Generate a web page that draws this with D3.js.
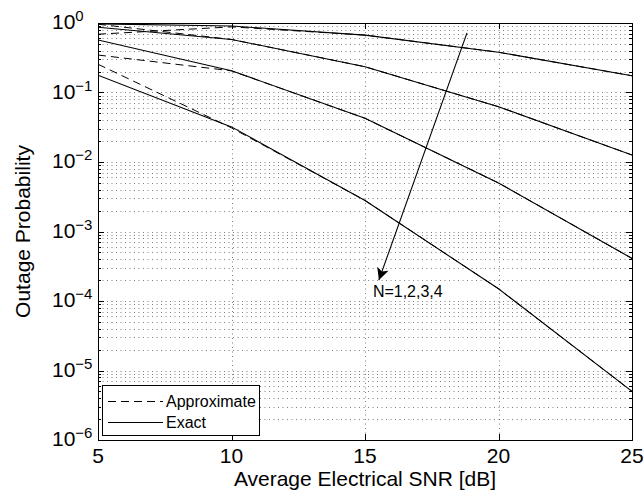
<!DOCTYPE html>
<html>
<head>
<meta charset="utf-8">
<script src="https://cdn.jsdelivr.net/npm/d3@7"></script>
<style>
  body { margin: 0; background: #fff; }
  text { font-family: "Liberation Sans", Arial, Helvetica, sans-serif; fill: #000; }
</style>
</head>
<body>
<svg id="chart"></svg>
<script>
const margin = {t: 23, r: 12, b: 52, l: 98};
const size = {w: 644, h: 492};

// SNR points [dB]
const snr = [5, 10, 15, 20, 25];

// exact outage probability, N = 1..4
const exactN1 = [0.97, 0.905, 0.67, 0.38, 0.174];
const exactN2 = [0.87, 0.58, 0.235, 0.0625, 0.0126];
const exactN3 = [0.57, 0.206, 0.0425, 0.005, 4.1e-4];
const exactN4 = [0.177, 0.032, 0.0028, 1.5e-4, 5e-6];

// approximate (high SNR) outage probability, N = 1..4
const approxN1 = [0.69, 0.88, 0.67, 0.38, 0.174];
const approxN2 = [0.96, 0.58, 0.235, 0.0625, 0.0126];
const approxN3 = [0.346, 0.205, 0.0425, 0.005, 4.1e-4];
const approxN4 = [0.255, 0.031, 0.0028, 1.5e-4, 5e-6];

const xTicks = [5, 10, 15, 20, 25];
const yExponents = [0, -1, -2, -3, -4, -5, -6];

const legendLabels = ['Approximate', 'Exact'];
const arrowLabel = 'N=1,2,3,4';
// arrow start / tip in data units
const arrowFrom = {x: 18.82, y: 0.72};
const arrowTo = {x: 15.52, y: 2.0e-4};

const svg = d3.select('svg#chart')
    .attr('width', size.w)
    .attr('height', size.h);

const w = size.w - margin.l - margin.r;
const h = size.h - margin.t - margin.b;

const g = svg.append('g')
    .attr('transform', `translate(${margin.l}, ${margin.t})`);

const x = d3.scaleLinear().domain([5, 25]).range([0, w]);
const y = d3.scaleLog().domain([1e-6, 1]).range([h, 0]);

// minor + major y values for grid and ticks
const yAll = [];
for (let e = -6; e < 0; e++) {
    for (let m = 1; m < 10; m++) yAll.push(m * Math.pow(10, e));
}
yAll.push(1);

// grid
const grid = g.append('g').attr('class', 'grid')
    .attr('stroke', '#000')
    .attr('stroke-width', 1)
    .attr('stroke-dasharray', '1,3.5')
    .attr('stroke-opacity', 0.5);

grid.selectAll('line.h')
    .data(yAll.filter(v => v > 1e-6 && v < 1))
    .join('line')
    .attr('class', 'h')
    .attr('x1', 0).attr('x2', w)
    .attr('y1', d => Math.round(y(d)) + 0.5)
    .attr('y2', d => Math.round(y(d)) + 0.5);

grid.selectAll('line.v')
    .data(xTicks.slice(1, -1))
    .join('line')
    .attr('class', 'v')
    .attr('y1', 0).attr('y2', h)
    .attr('x1', d => Math.round(x(d)) + 0.5)
    .attr('x2', d => Math.round(x(d)) + 0.5);

// curves
const line = d3.line()
    .x((d, i) => x(snr[i]))
    .y(d => y(d));

const exact = [exactN1, exactN2, exactN3, exactN4];
const approx = [approxN1, approxN2, approxN3, approxN4];

svg.append('clipPath').attr('id', 'clip')
    .append('rect').attr('width', w).attr('height', h);

const curves = g.append('g').attr('clip-path', 'url(#clip)');

curves.selectAll('path.approx')
    .data(approx)
    .join('path')
    .attr('class', 'approx')
    .attr('d', line)
    .attr('fill', 'none')
    .attr('stroke', '#000')
    .attr('stroke-width', 1)
    .attr('stroke-dasharray', '8,5');

curves.selectAll('path.exact')
    .data(exact)
    .join('path')
    .attr('class', 'exact')
    .attr('d', line)
    .attr('fill', 'none')
    .attr('stroke', '#000')
    .attr('stroke-width', 1.1);

// axes box
g.append('rect')
    .attr('x', 0.5).attr('y', 0.5)
    .attr('width', w).attr('height', h)
    .attr('fill', 'none')
    .attr('stroke', '#000')
    .attr('stroke-width', 1);

// ticks (inside, on all four sides)
const ticks = g.append('g').attr('stroke', '#000').attr('stroke-width', 1);
xTicks.forEach(v => {
    const px = Math.round(x(v)) + 0.5;
    ticks.append('line').attr('x1', px).attr('x2', px).attr('y1', h).attr('y2', h - 6);
    ticks.append('line').attr('x1', px).attr('x2', px).attr('y1', 0).attr('y2', 6);
});
yAll.forEach(v => {
    const py = Math.round(y(v)) + 0.5;
    const major = Math.abs(Math.log10(v) - Math.round(Math.log10(v))) < 1e-9;
    const len = major ? 6 : 3;
    ticks.append('line').attr('x1', 0).attr('x2', len).attr('y1', py).attr('y2', py);
    ticks.append('line').attr('x1', w - len).attr('x2', w).attr('y1', py).attr('y2', py);
});

// x tick labels
g.selectAll('text.xtick')
    .data(xTicks)
    .join('text')
    .attr('class', 'xtick')
    .attr('x', d => x(d))
    .attr('y', h + 23)
    .attr('text-anchor', 'middle')
    .style('font-size', '21px')
    .text(d => d);

// y tick labels 10^k
const yl = g.selectAll('text.ytick')
    .data(yExponents)
    .join('text')
    .attr('class', 'ytick')
    .attr('x', -46)
    .attr('y', d => y(Math.pow(10, d)) + 6)
    .style('font-size', '21px');
yl.append('tspan').text('10');
yl.append('tspan')
    .attr('dy', -8)
    .style('font-size', '15px')
    .text(d => d === 0 ? '0' : '\u2212' + Math.abs(d));

// axis titles
svg.append('text')
    .attr('x', margin.l + w / 2)
    .attr('y', size.h - 6)
    .attr('text-anchor', 'middle')
    .style('font-size', '21px')
    .text('Average Electrical SNR [dB]');

svg.append('text')
    .attr('transform', `translate(30, ${margin.t + h / 2}) rotate(-90)`)
    .attr('text-anchor', 'middle')
    .style('font-size', '21px')
    .text('Outage Probability');

// arrow annotation
svg.append('defs').append('marker')
    .attr('id', 'arrowhead')
    .attr('viewBox', '0 0 10 10')
    .attr('refX', 10).attr('refY', 5)
    .attr('markerWidth', 15).attr('markerHeight', 12)
    .attr('markerUnits', 'userSpaceOnUse')
    .attr('orient', 'auto')
    .append('path')
    .attr('d', 'M0,0 L10,5 L0,10 L2.5,5 Z')
    .attr('fill', '#000');

g.append('line')
    .attr('x1', x(arrowFrom.x)).attr('y1', y(arrowFrom.y))
    .attr('x2', x(arrowTo.x)).attr('y2', y(arrowTo.y))
    .attr('stroke', '#000')
    .attr('stroke-width', 1.1)
    .attr('marker-end', 'url(#arrowhead)');

g.append('text')
    .attr('x', x(arrowTo.x) - 6)
    .attr('y', y(arrowTo.y) + 17)
    .style('font-size', '16px')
    .text(arrowLabel);

// legend
const legend = g.append('g')
    .attr('transform', `translate(4, ${h - 55})`);
legend.append('rect')
    .attr('x', 0.5).attr('y', 0.5)
    .attr('width', 157).attr('height', 50)
    .attr('fill', '#fff')
    .attr('stroke', '#000');
legend.selectAll('line')
    .data(legendLabels)
    .join('line')
    .attr('x1', 6).attr('x2', 61)
    .attr('y1', (d, i) => 16.5 + i * 21)
    .attr('y2', (d, i) => 16.5 + i * 21)
    .attr('stroke', '#000')
    .attr('stroke-dasharray', (d, i) => i === 0 ? '8,5' : null);
legend.selectAll('text')
    .data(legendLabels)
    .join('text')
    .attr('x', 64)
    .attr('y', (d, i) => 22 + i * 21)
    .style('font-size', '16px')
    .text(d => d);
</script>
</body>
</html>
